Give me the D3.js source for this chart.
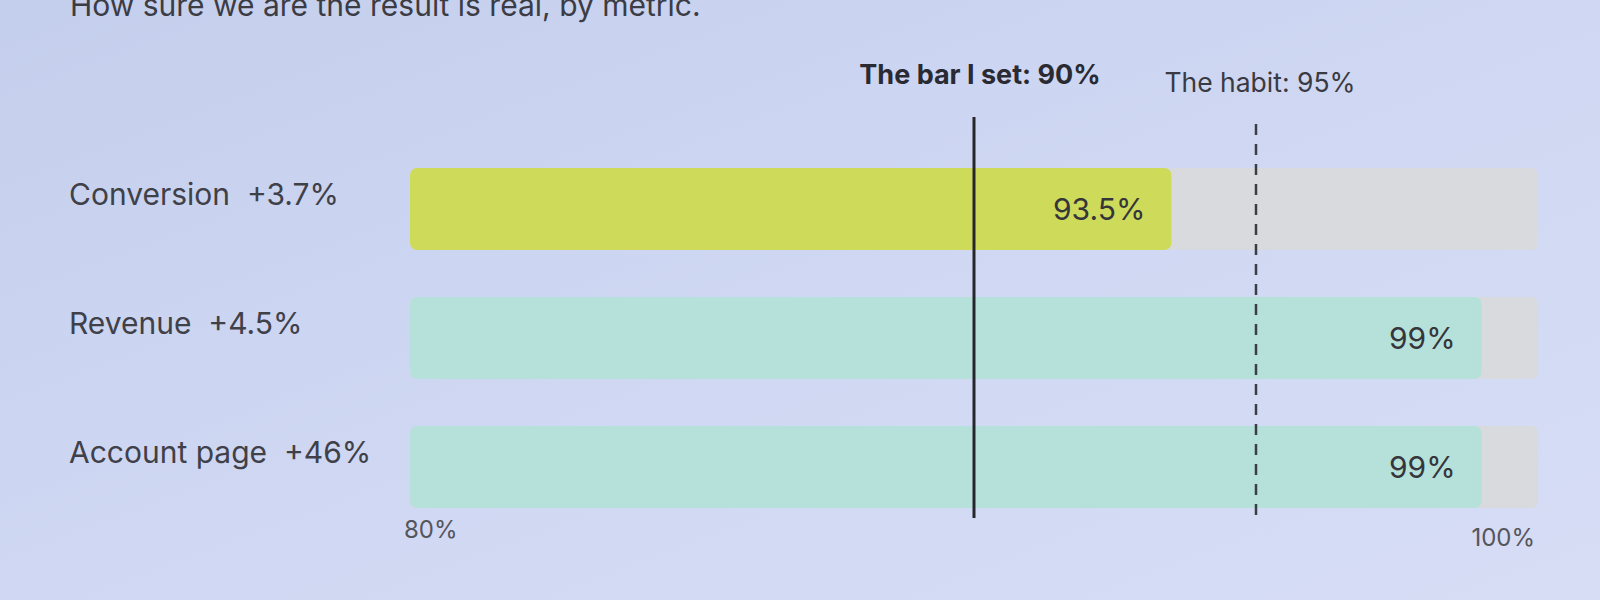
<!DOCTYPE html>
<html>
<head>
<meta charset="utf-8">
<script src="https://cdn.jsdelivr.net/npm/d3@7"></script>
<style>
  html, body { margin: 0; padding: 0; }
  body { width: 1600px; height: 600px; overflow: hidden; }
  svg { font-family: Inter, "Noto Sans", sans-serif; }
</style>
</head>
<body>
<svg id="chart"></svg>
<script>
// data
const metrics = ["Conversion", "Revenue", "Account page"];
const lifts = ["+3.7%", "+4.5%", "+46%"];
const certainty = [93.5, 99, 99];
const valueLabels = ["93.5%", "99%", "99%"];
const barColors = ["#cedb5a", "#b6e1da", "#b6e1da"];
const refValues = [90, 95];
const refLabels = ["The bar I set: 90%", "The habit: 95%"];
const axisTicks = [80, 100];
const title = "How sure we are the result is real, by metric.";

const width = 1600, height = 600;
const barHeight = 82;

const svg = d3.select("#chart")
    .attr("width", width)
    .attr("height", height);

// background
const defs = svg.append("defs");
const grad = defs.append("linearGradient")
    .attr("id", "bg")
    .attr("x1", 0).attr("y1", 0).attr("x2", 1).attr("y2", 1);
grad.append("stop").attr("offset", "0%").attr("stop-color", "#c4cfed");
grad.append("stop").attr("offset", "55%").attr("stop-color", "#d0d8f3");
grad.append("stop").attr("offset", "100%").attr("stop-color", "#d7ddf5");

svg.append("rect")
    .attr("width", width)
    .attr("height", height)
    .attr("fill", "url(#bg)");

const x = d3.scaleLinear().domain([80, 100]).range([410, 1538]);
const y = d3.scalePoint().domain(metrics).range([209, 467]);

// title, cut off at the top edge as in the photo
svg.append("text")
    .attr("x", 70)
    .attr("y", 16)
    .attr("font-size", 30)
    .attr("fill", "#3c3c44")
    .text(title);

// grey tracks
svg.append("g").selectAll("rect")
    .data(metrics)
    .join("rect")
    .attr("x", x(80))
    .attr("y", d => y(d) - barHeight / 2)
    .attr("width", x(100) - x(80))
    .attr("height", barHeight)
    .attr("rx", 7)
    .attr("fill", "#d8dadd");

// value bars
svg.append("g").selectAll("rect")
    .data(metrics)
    .join("rect")
    .attr("x", x(80))
    .attr("y", d => y(d) - barHeight / 2)
    .attr("width", (d, i) => x(certainty[i]) - x(80))
    .attr("height", barHeight)
    .attr("rx", 7)
    .attr("fill", (d, i) => barColors[i]);

// value labels inside bars
svg.append("g").selectAll("text")
    .data(metrics)
    .join("text")
    .attr("x", (d, i) => x(certainty[i]) - 26)
    .attr("y", d => y(d) + 11)
    .attr("text-anchor", "end")
    .attr("font-size", 30)
    .attr("fill", "#35353a")
    .text((d, i) => valueLabels[i]);

// row labels
svg.append("g").selectAll("text")
    .data(metrics)
    .join("text")
    .attr("x", 69)
    .attr("y", d => y(d) - 4)
    .attr("font-size", 30)
    .attr("fill", "#404048")
    .attr("xml:space", "preserve")
    .text((d, i) => `${d}  ${lifts[i]}`);

// reference lines
svg.append("line")
    .attr("x1", x(refValues[0])).attr("x2", x(refValues[0]))
    .attr("y1", 117).attr("y2", 518)
    .attr("stroke", "#26262c")
    .attr("stroke-width", 3);

svg.append("line")
    .attr("x1", x(refValues[1])).attr("x2", x(refValues[1]))
    .attr("y1", 124).attr("y2", 522)
    .attr("stroke", "#3a3f44")
    .attr("stroke-width", 2.5)
    .attr("stroke-dasharray", "11,9");

// reference labels
svg.append("text")
    .attr("x", x(refValues[0]) + 6)
    .attr("y", 84)
    .attr("text-anchor", "middle")
    .attr("font-size", 27)
    .attr("font-weight", "bold")
    .attr("fill", "#2a2a32")
    .text(refLabels[0]);

svg.append("text")
    .attr("x", x(refValues[1]) + 4)
    .attr("y", 92)
    .attr("text-anchor", "middle")
    .attr("font-size", 26.5)
    .attr("fill", "#3a3a42")
    .text(refLabels[1]);

// axis end labels
svg.append("g").selectAll("text")
    .data(axisTicks)
    .join("text")
    .attr("x", (d, i) => i === 0 ? x(d) - 6 : x(d) - 3)
    .attr("y", (d, i) => i === 0 ? 538 : 546)
    .attr("text-anchor", (d, i) => i === 0 ? "start" : "end")
    .attr("font-size", 24)
    .attr("fill", "#55555c")
    .text(d => d + "%");
</script>
</body>
</html>
